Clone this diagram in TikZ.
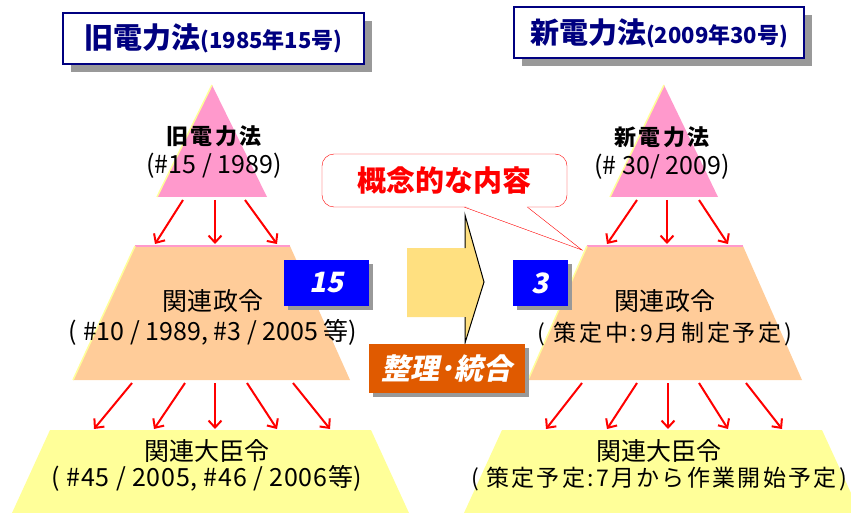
\documentclass[tikz,border=0pt]{standalone}
\usepackage{fontspec}
\setmainfont{Noto Sans CJK JP}
\newfontfamily\jpsl[FakeSlant=0.2]{Noto Sans CJK JP}
\usetikzlibrary{shapes,arrows.meta,positioning,calc,shadows}

\definecolor{navy}{HTML}{000080}
\definecolor{pinktri}{HTML}{FF99CC}
\definecolor{peach}{HTML}{FFCC99}
\definecolor{lowyel}{HTML}{FFFF99}
\definecolor{bigarrow}{HTML}{FFE080}
\definecolor{numblue}{HTML}{0000FF}
\definecolor{orangebox}{HTML}{E05A00}
\definecolor{shadowgray}{HTML}{999999}

\tikzset{
  titlebox/.style={draw=navy, line width=2pt, fill=white, text=navy, font=\bfseries, inner sep=0pt,
    minimum height=51pt, drop shadow={shadow xshift=8pt, shadow yshift=-8pt, fill=shadowgray, opacity=1}},
  numbox/.style={fill=numblue, text=white, font=\jpsl\bfseries\fontsize{28}{28}\selectfont, inner sep=0pt,
    minimum height=46pt, drop shadow={shadow xshift=4pt, shadow yshift=-4pt, fill=shadowgray, opacity=1}},
  layertext/.style={align=center, inner sep=0pt},
  redarrow/.style={draw=red, line width=2pt, -{Straight Barb[length=7pt,width=13pt]}}
}
\newcommand{\lsp}[1]{\addfontfeature{LetterSpace=#1}}

\begin{document}
\begin{tikzpicture}[x=1pt, y=-1pt]
\useasboundingbox (0,0) rectangle (851,513);

% 金字塔(旧)
\fill[pinktri] (212,85) -- (267,197) -- (157,197) -- cycle;
\fill[peach] (135,246) -- (290,246) -- (350,380) -- (73,380) -- cycle;
\fill[lowyel] (50,430) -- (371,430) -- (409,513) -- (12,513) -- cycle;
\draw[pinktri, line width=2pt] (135,246) -- (290,246);
\draw[lowyel, line width=1.5pt] (212,85) -- (157,197);
\draw[lowyel, line width=1.5pt] (135,246) -- (73,380);

% 金字塔(新)
\fill[pinktri] (664,85) -- (718,197) -- (610,197) -- cycle;
\fill[peach] (587,246) -- (743,246) -- (802,380) -- (528,380) -- cycle;
\fill[lowyel] (502,430) -- (822,430) -- (851,493) -- (851,513) -- (464,513) -- cycle;
\draw[pinktri, line width=2pt] (587,246) -- (743,246);
\draw[lowyel, line width=1.5pt] (664,85) -- (610,197);
\draw[lowyel, line width=1.5pt] (587,246) -- (528,380);

% 标题
\node[titlebox, minimum width=301pt] (oldtitle) at (213.5,38.5)
  {{\fontsize{29}{30}\selectfont 旧電力法}{\fontsize{22}{24}\selectfont (1985年15号)}};
\node[titlebox, minimum width=290pt] (newtitle) at (659,33)
  {{\fontsize{29}{30}\selectfont 新電力法}{\fontsize{22}{24}\selectfont (2009年30号)}};

% 各层文字
\node[layertext, font=\fontsize{25}{29}\selectfont] (oldlaw) at (214,152.5)
  {{\bfseries\fontsize{22}{29}\selectfont\lsp{12}旧電力法}\\(\#15 / 1989)};
\node[layertext, font=\fontsize{25}{30}\selectfont] (oldord) at (213,317)
  {{\lsp{2}関連政令}\\( \#10 / 1989, \#3 / 2005 等)};
\node[layertext, font=\fontsize{25}{26}\selectfont] (oldmin) at (207,465)
  {関連大臣令\\{\lsp{3}( \#45 / 2005, \#46 / 2006等)}};

\node[layertext, font=\fontsize{25}{29}\selectfont] (newlaw) at (662,153)
  {{\bfseries\fontsize{22}{29}\selectfont\lsp{12}新電力法}\\(\# 30/ 2009)};
\node[layertext, font=\fontsize{25}{31}\selectfont] (neword) at (665,318)
  {{\lsp{2}関連政令}\\{\fontsize{23}{31}\selectfont\lsp{12}( 策定中:9月制定予定)}};
\node[layertext, font=\fontsize{25}{26}\selectfont] (newmin) at (659,465)
  {関連大臣令\\{\fontsize{23}{26}\selectfont\lsp{10}( 策定予定:7月から作業開始予定)}};

% 数
\node[numbox, minimum width=85pt] (oldnum) at (326.5,283) {15};
\node[numbox, minimum width=55pt] (newnum) at (540.5,283) {3};

% 连接
\coordinate (oldtopbase) at (215,200);
\coordinate (oldmidtop) at (215,244);
\coordinate (oldmidbase) at (215,383);
\coordinate (oldlowtop) at (215,429);
\coordinate (newtopbase) at (667,200);
\coordinate (newmidtop) at (667,244);
\coordinate (newmidbase) at (668,383);
\coordinate (newlowtop) at (668,429);

\draw[redarrow] ([xshift=-32pt]oldtopbase) -- ([xshift=-60pt]oldmidtop);
\draw[redarrow] (oldtopbase) -- (oldmidtop);
\draw[redarrow] ([xshift=30pt]oldtopbase) -- ([xshift=62pt]oldmidtop);
\draw[redarrow] ([xshift=-83pt]oldmidbase) -- ([xshift=-121pt]oldlowtop);
\draw[redarrow] ([xshift=-30pt]oldmidbase) -- ([xshift=-61pt]oldlowtop);
\draw[redarrow] (oldmidbase) -- (oldlowtop);
\draw[redarrow] ([xshift=32pt]oldmidbase) -- ([xshift=62pt]oldlowtop);
\draw[redarrow] ([xshift=78pt]oldmidbase) -- ([xshift=115pt]oldlowtop);

\draw[redarrow] ([xshift=-30pt]newtopbase) -- ([xshift=-60pt]newmidtop);
\draw[redarrow] (newtopbase) -- (newmidtop);
\draw[redarrow] ([xshift=32pt]newtopbase) -- ([xshift=61pt]newmidtop);
\draw[redarrow] ([xshift=-86pt]newmidbase) -- ([xshift=-122pt]newlowtop);
\draw[redarrow] ([xshift=-31pt]newmidbase) -- ([xshift=-61pt]newlowtop);
\draw[redarrow] (newmidbase) -- (newlowtop);
\draw[redarrow] ([xshift=31pt]newmidbase) -- ([xshift=60pt]newlowtop);
\draw[redarrow] ([xshift=78pt]newmidbase) -- ([xshift=114pt]newlowtop);

% 大箭头
\fill[bigarrow] (407,248) -- (465,248) -- (465,215) -- (484,282) -- (465,343) -- (465,317) -- (407,317) -- cycle;
\draw[black, line width=1pt] (465,248) -- (465,215) -- (484,282) -- (465,343) -- (465,317);

% 说明框
\node[draw=red, fill=white, rounded corners=12pt, minimum width=245pt, minimum height=53pt, inner sep=0pt,
  text=red, font=\bfseries\fontsize{29}{29}\selectfont] (concept) at (444.5,180.5) {概念的な内容};
\coordinate (calltip) at (582,250);
\fill[white] ([xshift=21pt,yshift=1pt]concept.south) -- (calltip) -- ([xshift=82pt,yshift=1pt]concept.south) -- cycle;
\draw[red] ([xshift=20pt]concept.south) -- (calltip) -- ([xshift=83pt]concept.south);

\node[fill=orangebox, text=white, minimum width=156pt, minimum height=49pt, inner sep=0pt,
  font=\jpsl\bfseries\fontsize{29}{29}\selectfont,
  drop shadow={shadow xshift=4pt, shadow yshift=-4pt, fill=shadowgray, opacity=1}] (merge) at (447,368.5) {整理･統合};
\end{tikzpicture}
\end{document}
